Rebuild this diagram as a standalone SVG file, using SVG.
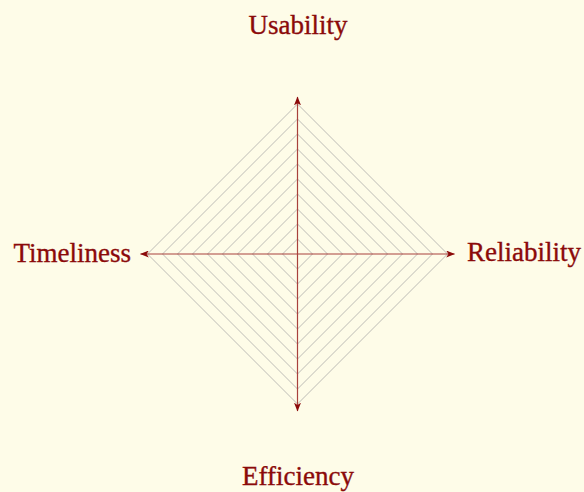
<svg xmlns="http://www.w3.org/2000/svg" width="584" height="492" viewBox="0 0 584 492">
<style>
.bg{fill:#FEFCE8}
.grid{fill:none;stroke:#bdbcb6;stroke-width:1}
.axis{stroke:#a8413c;stroke-width:1.2}
.lbl{font-family:"Liberation Serif","Times New Roman",serif;font-size:27px;fill:#8B0A0A;stroke:#8B0A0A;stroke-width:0.35}
</style>
<defs>
<marker id="ah" viewBox="0 0 10 8" refX="9.5" refY="4" markerWidth="9" markerHeight="7" markerUnits="userSpaceOnUse" orient="auto">
<path d="M0,0 L10,4 L0,8 L2.5,4 Z" fill="#8B0A0A"/>
</marker>
</defs>
<rect class="bg" x="0" y="0" width="584" height="492"/>
<g id="grid">
<path class="grid" d="M297.5,239 L312.5,254 L297.5,269 L282.5,254 Z"/>
<path class="grid" d="M297.5,224 L327.5,254 L297.5,284 L267.5,254 Z"/>
<path class="grid" d="M297.5,209 L342.5,254 L297.5,299 L252.5,254 Z"/>
<path class="grid" d="M297.5,194 L357.5,254 L297.5,314 L237.5,254 Z"/>
<path class="grid" d="M297.5,179 L372.5,254 L297.5,329 L222.5,254 Z"/>
<path class="grid" d="M297.5,164 L387.5,254 L297.5,344 L207.5,254 Z"/>
<path class="grid" d="M297.5,149 L402.5,254 L297.5,359 L192.5,254 Z"/>
<path class="grid" d="M297.5,134 L417.5,254 L297.5,374 L177.5,254 Z"/>
<path class="grid" d="M297.5,119 L432.5,254 L297.5,389 L162.5,254 Z"/>
<path class="grid" d="M297.5,104 L447.5,254 L297.5,404 L147.5,254 Z"/>
</g>
<g id="connectors">
<line class="axis" x1="297.5" y1="254" x2="297.5" y2="97" marker-end="url(#ah)"/>
<line class="axis" x1="297.5" y1="254" x2="454.5" y2="254" marker-end="url(#ah)"/>
<line class="axis" x1="297.5" y1="254" x2="297.5" y2="411" marker-end="url(#ah)"/>
<line class="axis" x1="297.5" y1="254" x2="140.5" y2="254" marker-end="url(#ah)"/>
</g>
<g id="usability"><text class="lbl" x="298" y="33.5" text-anchor="middle">Usability</text></g>
<g id="reliability"><text class="lbl" x="467" y="260.5" text-anchor="start">Reliability</text></g>
<g id="efficiency"><text class="lbl" x="298" y="485" text-anchor="middle">Efficiency</text></g>
<g id="timeliness"><text class="lbl" x="131" y="261.5" text-anchor="end">Timeliness</text></g>
</svg>
